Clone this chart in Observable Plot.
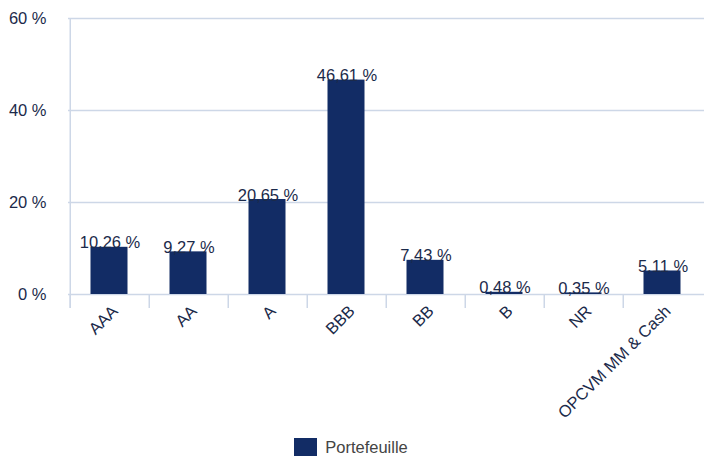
<!DOCTYPE html>
<html>
<head>
<meta charset="utf-8">
<script src="https://cdn.jsdelivr.net/npm/d3@7"></script>
<script src="https://cdn.jsdelivr.net/npm/@observablehq/plot@0.6"></script>
<style>
  html, body { margin: 0; padding: 0; background: #fff; }
  body { width: 704px; height: 456px; overflow: hidden; font-family: "Liberation Sans", Arial, sans-serif; }
  #legend { display: flex; align-items: center; justify-content: center; height: 20px; margin-top: 7px; padding-right: 2px; }
  #legend .sw { width: 23px; height: 18px; background: #122c65; margin-right: 8px; }
  #legend span { font-size: 16.5px; color: #444; }
</style>
</head>
<body>
<div id="chart"></div>
<div id="legend"><div class="sw"></div><span>Portefeuille</span></div>
<script>
const categories = ["AAA", "AA", "A", "BBB", "BB", "B", "NR", "OPCVM MM & Cash"];
const values = [10.26, 9.27, 20.65, 46.61, 7.43, 0.48, 0.35, 5.11];
const yTicks = [0, 20, 40, 60];
const seriesName = "Portefeuille";

const data = categories.map((c, i) => ({ category: c, value: values[i] }));
const fmt = v => v.toFixed(2).replace(".", ",") + " %";

const W = 704, H = 430, mL = 68, mR = 0, mT = 18, mB = 136;
const step = (W - mL - mR) / categories.length;
const inset = (step - 37.5) / 2;
const navy = "#122c65";
const textCol = "#1b2a4a";
const grid = "#cdd7e7";
const fs = 16.5;

const chart = Plot.plot({
  width: W,
  height: H,
  marginLeft: mL,
  marginRight: mR,
  marginTop: mT,
  marginBottom: mB,
  style: { fontFamily: "Liberation Sans, Arial, sans-serif", fontSize: fs + "px", color: textCol, background: "#fff" },
  x: { domain: categories, padding: 0, label: null },
  y: { domain: [0, 60], ticks: yTicks, label: null },
  marks: [
    Plot.ruleY(yTicks, { stroke: grid, strokeWidth: 1.5 }),
    Plot.ruleX(categories, { x: d => d, y1: 0, y2: -3.05, dx: -step / 2, stroke: grid, strokeWidth: 1.5 }),
    Plot.ruleX([categories[0]], { x: d => d, y1: -3.05, y2: 60, dx: -step / 2, stroke: grid, strokeWidth: 1.5 }),
    Plot.barY(data, { x: "category", y: "value", fill: navy, insetLeft: inset, insetRight: inset, dx: -0.5 }),
    Plot.text(data, { x: "category", y: "value", text: d => fmt(d.value), lineAnchor: "bottom", dy: 1, fill: textCol, fontSize: fs }),
    Plot.axisY({ ticks: yTicks, tickSize: 0, tickPadding: 22, tickFormat: d => d + " %", fill: textCol, fontSize: fs }),
    Plot.axisX({ tickSize: 0, tickPadding: 0, tickRotate: -45, textAnchor: "end", dx: 5, dy: 14, fill: textCol, fontSize: fs })
  ]
});
document.getElementById("chart").appendChild(chart);
</script>
</body>
</html>
